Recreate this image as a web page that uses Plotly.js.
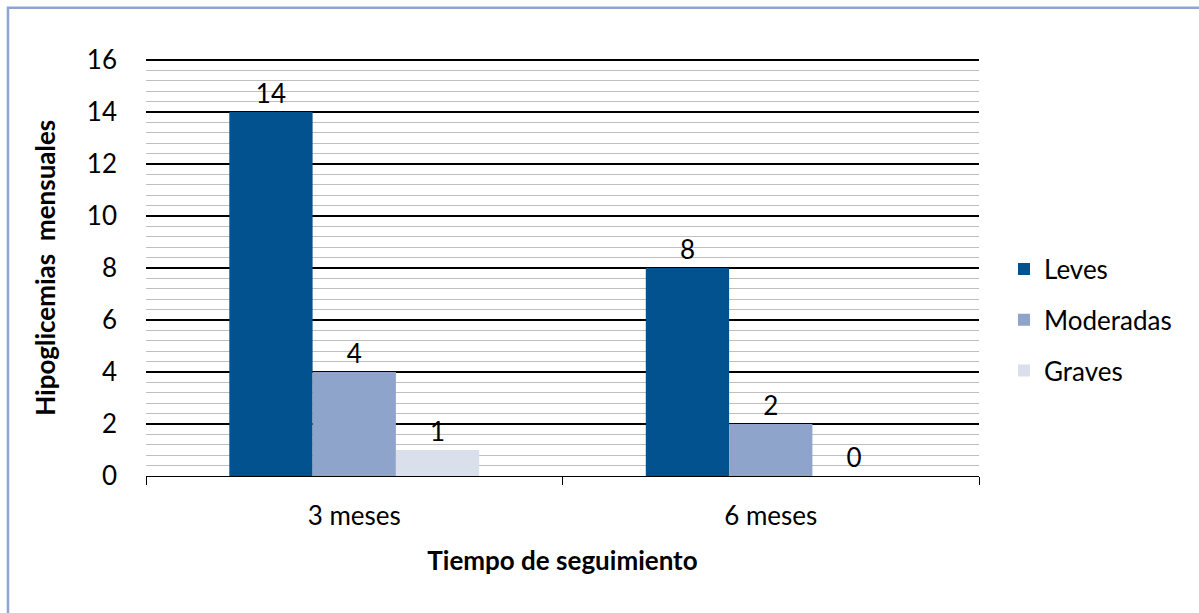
<!DOCTYPE html>
<html>
<head>
<meta charset="utf-8">
<script src="https://cdn.plot.ly/plotly-3.0.1.min.js"></script>
<style>html,body{margin:0;padding:0;background:#fff;}#chart{width:1199px;height:613px;}</style>
</head>
<body>
<div id="chart"></div>
<script>
const categories = ["3 meses", "6 meses"];
const seriesNames = ["Leves", "Moderadas", "Graves"];
const leves = [14, 8];
const moderadas = [4, 2];
const graves = [1, 0];
const yTicks = [0, 2, 4, 6, 8, 10, 12, 14, 16];
const yTitle = "Hipoglicemias  mensuales";
const xTitle = "Tiempo de seguimiento";

const colors = ["#02528F", "#8FA4CB", "#DADFEC"];
const values = [leves, moderadas, graves];
const FONT = "Lato, 'Open Sans', sans-serif";
const FS = 26;

// minor gridline positions (4 between each pair of major ticks)
const minorVals = [];
for (let k = 0; k < yTicks.length - 1; k++) {
  for (let j = 1; j < 5; j++) minorVals.push(yTicks[k] + (yTicks[k + 1] - yTicks[k]) * j / 5);
}

const traces = values.map((v, i) => ({
  type: "bar",
  name: seriesNames[i],
  x: categories,
  y: v,
  marker: {color: colors[i]},
  text: v.map(String),
  texttemplate: "%{text}",
  textposition: "outside",
  textfont: {size: FS, color: "#000", family: FONT},
  cliponaxis: false,
  legendgroup: "g" + i,
  hoverinfo: "none"
}));

const layout = {
  width: 1199, height: 613,
  margin: {l: 146, r: 220, t: 58, b: 137},
  paper_bgcolor: "#fff", plot_bgcolor: "#fff",
  font: {family: FONT, size: FS, color: "#000"},
  barmode: "group",
  bargap: 0.4, bargroupgap: 0,
  showlegend: true,
  legend: {x: 1.03, y: 0.373, yanchor: "middle", xanchor: "left",
           font: {size: FS, family: FONT}, tracegroupgap: 14, traceorder: "grouped",
           itemwidth: 30},
  xaxis: {
    type: "category",
    showline: true, linecolor: "#000", linewidth: 1.3,
    ticks: "outside", tickson: "boundaries", ticklen: 8, tickcolor: "#000",
    showgrid: false,
    tickfont: {size: FS, family: FONT},
    ticklabelstandoff: 16,
    title: {text: "<b>" + xTitle + "</b>", font: {size: FS, family: FONT}, standoff: 22}
  },
  yaxis: {
    range: [0, 16.077],
    tickmode: "array",
    tickvals: yTicks,
    ticktext: yTicks.map(String),
    showline: false, ticks: "",
    showgrid: true, gridcolor: "#000", gridwidth: 1.3,
    zeroline: false,
    minor: {tickmode: "array", tickvals: minorVals, showgrid: true, gridcolor: "#BFBFBF", gridwidth: 1.2},
    tickfont: {size: FS, family: FONT},
    ticklabelstandoff: 28
  },
  annotations: [{
    text: "<b>" + yTitle + "</b>", xref: "paper", yref: "paper",
    x: -0.1213, y: 0.498, xanchor: "center", yanchor: "middle",
    textangle: -90, showarrow: false, font: {size: FS, family: FONT, color: "#000"}
  }],
  shapes: [{
    type: "rect", xref: "paper", yref: "paper",
    x0: -0.1657, x1: 1.4, y0: -0.5, y1: 1.12,
    line: {color: "#8EA5CF", width: 2.5}, fillcolor: "rgba(0,0,0,0)", layer: "below"
  }]
};

Plotly.newPlot("chart", traces, layout, {displayModeBar: false, staticPlot: true});
</script>
</body>
</html>
